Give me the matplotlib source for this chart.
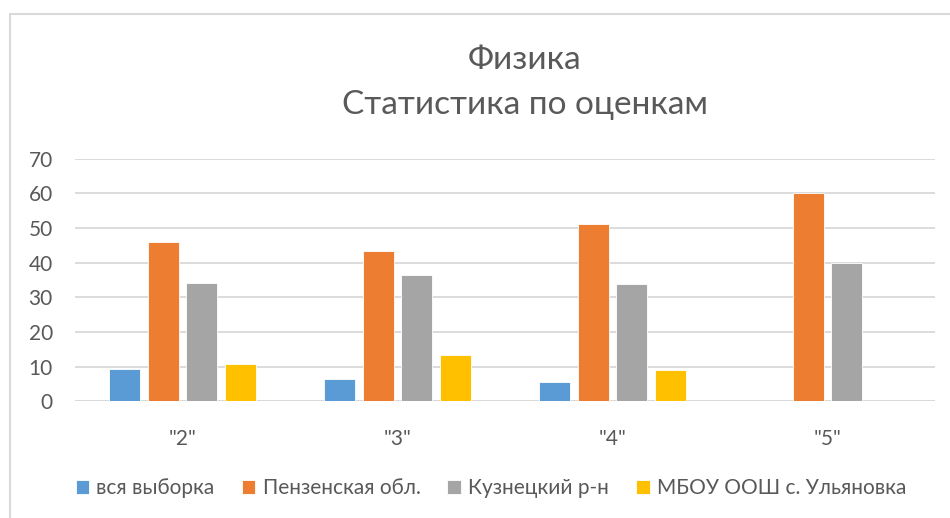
import numpy as np
import matplotlib.pyplot as plt
from matplotlib.patches import Rectangle

categories = ['"2"', '"3"', '"4"', '"5"']
series_names = ["вся выборка", "Пензенская обл.", "Кузнецкий р-н", "МБОУ ООШ с. Ульяновка"]
vsya = [9.2, 6.5, 5.5, 0]
penza = [45.9, 43.5, 51.2, 60.0]
kuzn = [34.0, 36.3, 33.9, 40.0]
ulyan = [10.8, 13.4, 9.0, 0]
colors = ["#5B9BD5", "#ED7D31", "#A5A5A5", "#FFC000"]

TEXT = "#595959"
GRID = "#D9D9D9"

plt.rcParams['font.family'] = ['Lato', 'DejaVu Sans']

fig = plt.figure(figsize=(9.5, 5.18), dpi=100)
fig.patches.append(Rectangle((10 / 950, -0.1), 1.2, 1 - 14 / 518 + 0.1,
                             transform=fig.transFigure, fill=False,
                             edgecolor=GRID, linewidth=1.5))

ax = fig.add_axes([75 / 950, 1 - 401.3 / 518, 860 / 950, 242.6 / 518])

x = np.arange(len(categories))
slot = 0.18
width = 0.145
for i, (vals, name) in enumerate(zip([vsya, penza, kuzn, ulyan], series_names)):
    ax.bar(x + (i - 1.5) * slot, vals, width, color=colors[i], label=name,
           edgecolor="white", linewidth=0.6, zorder=3)

ax.set_xlim(-0.5, len(categories) - 0.5)
ax.set_ylim(0, 70)
ax.set_yticks(range(0, 71, 10))
ax.set_xticks(x)
ax.set_xticklabels(categories)
ax.yaxis.grid(True, color=GRID, linewidth=1.3, zorder=0)
for s in ax.spines.values():
    s.set_visible(False)
ax.axhline(0, color=GRID, linewidth=1.3, zorder=1)
ax.tick_params(axis='both', length=0, labelsize=15, colors=TEXT)
ax.tick_params(axis='y', pad=16)
ax.tick_params(axis='x', pad=20)

title_x = 525 / 950
fig.text(title_x, 1 - 60 / 518, "Физика", ha='center', va='center', fontsize=24, color=TEXT)
fig.text(title_x, 1 - 105 / 518, "Статистика по оценкам", ha='center', va='center', fontsize=24, color=TEXT)

fig.legend(loc='center', bbox_to_anchor=(491 / 950, 1 - 488 / 518), ncol=4, frameon=False,
           fontsize=15, labelcolor=TEXT, handlelength=0.65, handleheight=0.65,
           handletextpad=0.35, columnspacing=1.3)

fig.savefig("out.png", dpi=100)
